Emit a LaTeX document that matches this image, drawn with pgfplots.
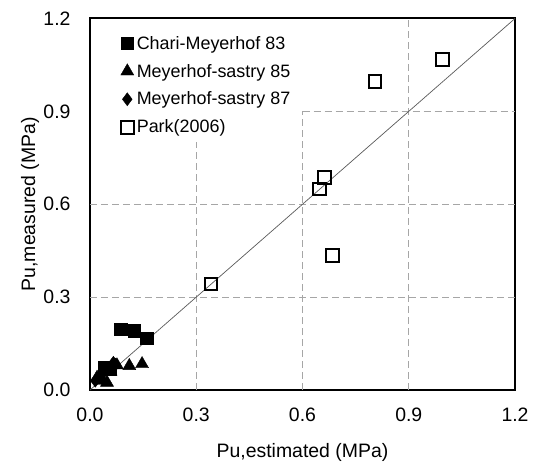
\documentclass[border=0pt]{standalone}
\usepackage{fontspec}
\setmainfont{Liberation Sans}
\usepackage{pgfplots}
\pgfplotsset{compat=1.18}

\pgfplotstableread{
x      y
0.087  0.197
0.125  0.192
0.160  0.167
0.040  0.073
0.055  0.068
}\chari

\pgfplotstableread{
x      y
0.147  0.084
0.111  0.078
0.076  0.080
0.058  0.060
0.036  0.030
0.048  0.024
0.020  0.040
}\msA

\pgfplotstableread{
x      y
0.066  0.088
0.072  0.082
0.030  0.045
0.015  0.030
}\msB

\pgfplotstableread{
x      y
0.342  0.342
0.648  0.649
0.662  0.686
0.685  0.435
0.805  0.996
0.996  1.068
}\park

\begin{document}
\begin{tikzpicture}
\begin{axis}[
  scale only axis,
  width=425bp, height=371.5bp,
  xmin=0, xmax=1.2, ymin=0, ymax=1.2,
  xtick={0,0.3,0.6,0.9,1.2}, ytick={0,0.3,0.6,0.9,1.2},
  /pgf/number format/fixed,
  /pgf/number format/fixed zerofill,
  /pgf/number format/precision=1,
  /pgf/number format/assume math mode=true,
  major tick length=0pt,
  tick style={draw=none},
  axis line style={line width=2bp},
  ticklabel style={font=\fontsize{19.5}{23}\selectfont},
  % extra room between the numbers and the frame
  xticklabel={\rule{0pt}{28bp}\pgfmathprintnumber{\tick}},
  yticklabel={\pgfmathprintnumber{\tick}\hspace*{16bp}},
  label style={font=\fontsize{19.5}{23}\selectfont},
  xlabel={Pu,estimated (MPa)},
  ylabel={Pu,measured (MPa)},
  xlabel style={at={(axis description cs:0.5,0)}, anchor=center, yshift=-62bp},
  ylabel style={at={(axis description cs:0,0.5)}, anchor=center, yshift=60bp},
  legend style={at={(axis description cs:0.065,0.964)}, anchor=north west,
    draw=none, fill=none, row sep=9.5bp, font=\fontsize{18}{21}\selectfont},
  legend cell align=left,
  clip=false,
]
% partial dashed grid
\addplot[forget plot, gray!70, line width=0.8bp, dash pattern=on 7bp off 4bp] coordinates {(0.3,0) (0.3,0.8)};
\addplot[forget plot, gray!70, line width=0.8bp, dash pattern=on 7bp off 4bp] coordinates {(0.6,0) (0.6,0.9)};
\addplot[forget plot, gray!70, line width=0.8bp, dash pattern=on 7bp off 4bp] coordinates {(0.9,0) (0.9,1.2)};
\addplot[forget plot, gray!70, line width=0.8bp, dash pattern=on 7bp off 4bp] coordinates {(0,0.3) (1.2,0.3)};
\addplot[forget plot, gray!70, line width=0.8bp, dash pattern=on 7bp off 4bp] coordinates {(0,0.6) (1.2,0.6)};
\addplot[forget plot, gray!70, line width=0.8bp, dash pattern=on 7bp off 4bp] coordinates {(0.6,0.9) (1.2,0.9)};
% 1:1 line
\addplot[forget plot, black!65, line width=0.7bp] coordinates {(0,0) (1.2,1.2)};

\addplot[only marks, mark=square*, mark size=6.3bp, fill=black, draw=black] table {\chari};
\addlegendentry{\hspace{1bp}Chari-Meyerhof 83}
\addplot[only marks, mark=triangle*, mark size=7.5bp, fill=black, draw=black] table {\msA};
\addlegendentry{\hspace{1bp}Meyerhof-sastry 85}
\addplot[only marks, mark=diamond*, mark size=6.5bp, fill=black, draw=black] table {\msB};
\addlegendentry{\hspace{1bp}Meyerhof-sastry 87}
\addplot[only marks, mark=square, mark size=6.3bp, draw=black, line width=2bp] table {\park};
\addlegendentry{\hspace{1bp}Park(2006)}
\end{axis}
\path ([shift={(-90bp,-76bp)}]current axis.south west) ([shift={(19bp,18.5bp)}]current axis.north east);
\end{tikzpicture}
\end{document}
